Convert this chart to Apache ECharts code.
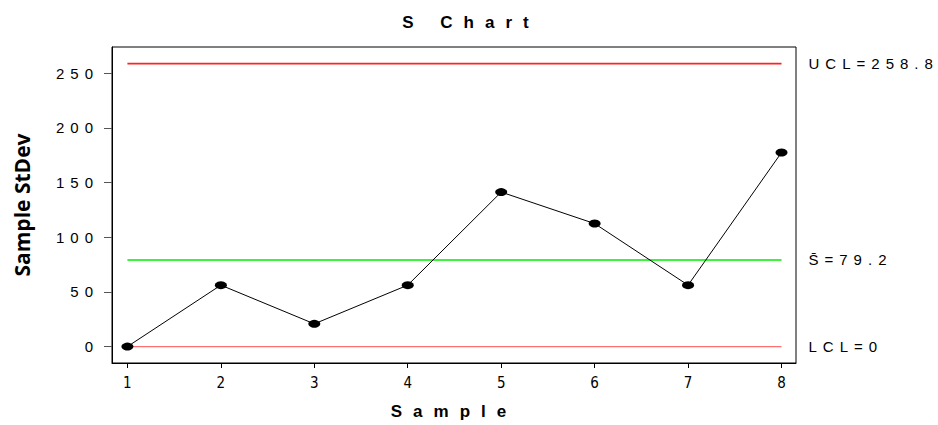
<!DOCTYPE html>
<html>
<head>
<meta charset="utf-8">
<script src="https://cdn.jsdelivr.net/npm/echarts@6/dist/echarts.min.js"></script>
<style>
html,body{margin:0;padding:0;background:#fff}
#c{width:938px;height:425px}
#c text[style*="Liberation Sans"]{letter-spacing:6px}
#c text[style*="DejaVu Sans"]{letter-spacing:0}
#c text[style*="Arial"]{letter-spacing:11px}
#c text[style*="Open Sans"]{letter-spacing:0}
</style>
</head>
<body>
<div id="c"></div>
<script>
const samples = [1, 2, 3, 4, 5, 6, 7, 8];
const stdev = [0, 56.2, 20.8, 56.2, 141.3, 112.5, 56.2, 177.5];
const yTicks = [0, 50, 100, 150, 200, 250];
const ucl = 258.8;
const center = 79.2;
const lcl = 0;
const uclLabel = 'UCL=258.8';
const centerLabel = 'S\u0304=79.2';
const lclLabel = 'LCL=0';

const chart = echarts.init(document.getElementById('c'), null, { renderer: 'svg' });
const tickFont = '"Liberation Sans Narrow", "Liberation Sans", sans-serif';
const xTickFont = '"DejaVu Sans Condensed", sans-serif';
const boldFont = 'Arial, sans-serif';
const lineData = samples.map((s, i) => [s, stdev[i]]);
function ctrl(v, color, width, label) {
  return {
    type: 'line', data: [[samples[0], v], [samples[samples.length - 1], v]],
    symbol: 'none', silent: true, color: color,
    lineStyle: { color: color, width: width, opacity: 1 },
    emphasis: { disabled: true },
    endLabel: { show: true, formatter: label, color: '#000', fontSize: 15, fontFamily: tickFont, distance: 27, align: 'left' },
    z: 3
  };
}
chart.setOption({
  animation: false,
  title: { text: 'S Chart', left: 466, top: 9, textAlign: 'center',
    textStyle: { fontSize: 17, fontWeight: 'bold', fontFamily: boldFont, color: '#000' } },
  grid: { left: 112, right: 142, top: 47, bottom: 62, show: true, borderColor: '#000', borderWidth: 1 },
  xAxis: {
    type: 'value', min: 0.835, max: 8.155,
    name: 'Sample', nameLocation: 'middle', nameGap: 40,
    nameTextStyle: { fontSize: 17, fontWeight: 'bold', fontFamily: boldFont, color: '#000' },
    axisLine: { show: true, onZero: false, lineStyle: { color: '#000' } },
    axisTick: { show: true, length: 5, customValues: samples, lineStyle: { color: '#000' } },
    axisLabel: { customValues: samples, fontSize: 15, fontFamily: xTickFont, color: '#000', margin: 12 },
    splitLine: { show: false }
  },
  yAxis: {
    type: 'value', min: -15, max: 274,
    name: 'Sample StDev', nameLocation: 'middle', nameGap: 80, nameRotate: 90,
    nameTextStyle: { fontSize: 21, fontWeight: 'bold', fontFamily: '"Open Sans", sans-serif', color: '#000' },
    axisLine: { show: true, onZero: false, lineStyle: { color: '#000' } },
    axisTick: { show: true, length: 8, customValues: yTicks, lineStyle: { color: '#555' } },
    axisLabel: { customValues: yTicks, fontSize: 15, fontFamily: tickFont, color: '#000', margin: 13 },
    splitLine: { show: false }
  },
  series: [
    ctrl(ucl, '#ff2020', 1.6, uclLabel),
    ctrl(center, '#00ee00', 1.3, centerLabel),
    ctrl(lcl, '#ff7070', 1.3, lclLabel),
    {
      type: 'line', data: lineData, symbol: 'circle', symbolSize: [12, 8],
      itemStyle: { color: '#000' }, lineStyle: { color: '#000', width: 1 }, z: 5
    }
  ]
});
</script>
</body>
</html>
